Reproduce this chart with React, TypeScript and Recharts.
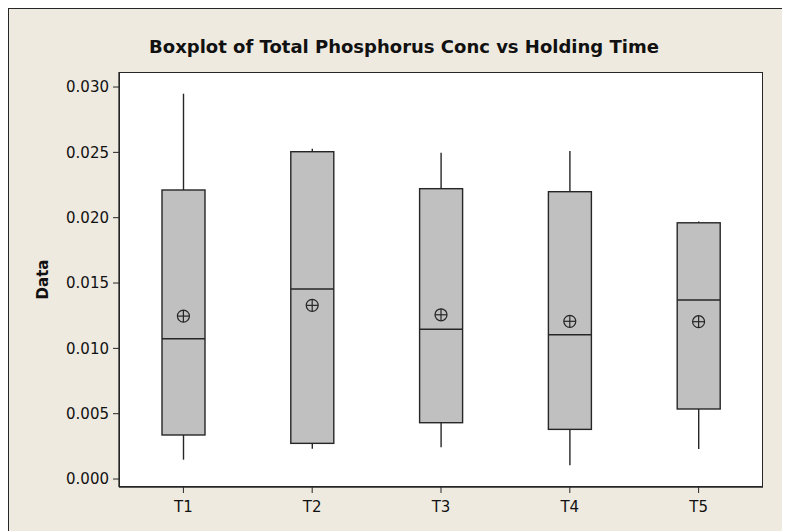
import { Bar, ComposedChart, Scatter, XAxis, YAxis, CartesianGrid } from "recharts";

const groups = ["T1", "T2", "T3", "T4", "T5"];
const whiskerLow = [0.00148, 0.00232, 0.00243, 0.00105, 0.0023];
const q1 = [0.00337, 0.00273, 0.00431, 0.0038, 0.00536];
const median = [0.01074, 0.01454, 0.01146, 0.01104, 0.0137];
const q3 = [0.02212, 0.02505, 0.02222, 0.02199, 0.01961];
const whiskerHigh = [0.02949, 0.02528, 0.02497, 0.0251, 0.0197];
const means = [0.01247, 0.01329, 0.01257, 0.01207, 0.01204];
const yTicks = [0, 0.005, 0.01, 0.015, 0.02, 0.025, 0.03];

const rows = groups.map((g, i) => ({
  name: g,
  range: [whiskerLow[i], whiskerHigh[i]],
  lo: whiskerLow[i],
  q1: q1[i],
  med: median[i],
  q3: q3[i],
  hi: whiskerHigh[i],
  mean: means[i],
}));

const INK = "#262626";
const BG = "#EEEAE0";
const FONT = "'DejaVu Sans', sans-serif";

function BoxShape(props: any) {
  const { x, y, width, height, payload } = props;
  const { lo, hi } = payload;
  // map a value into the pixel span the range bar already got from the y scale
  const py = (v: number) => y + (height * (hi - v)) / (hi - lo);
  const cx = x + width / 2;
  const top = py(payload.q3);
  const bottom = py(payload.q1);
  return (
    <g>
      <line x1={cx} x2={cx} y1={py(hi)} y2={top} stroke={INK} strokeWidth={1.4} />
      <line x1={cx} x2={cx} y1={bottom} y2={py(lo)} stroke={INK} strokeWidth={1.4} />
      <rect x={x} y={top} width={width} height={bottom - top} fill="#C0C0C0" stroke={INK} strokeWidth={1.4} />
      <line x1={x} x2={x + width} y1={py(payload.med)} y2={py(payload.med)} stroke={INK} strokeWidth={1.4} />
    </g>
  );
}

function MeanMark(props: any) {
  const { cx, cy } = props;
  const r = 6;
  return (
    <g>
      <circle cx={cx} cy={cy} r={r} fill="none" stroke={INK} strokeWidth={1.2} />
      <line x1={cx - r} x2={cx + r} y1={cy} y2={cy} stroke={INK} strokeWidth={1.2} />
      <line x1={cx} x2={cx} y1={cy - r} y2={cy + r} stroke={INK} strokeWidth={1.2} />
    </g>
  );
}

function YLabel(props: any) {
  const { viewBox } = props;
  const x = viewBox.x + 35;
  const y = viewBox.y + viewBox.height / 2;
  return (
    <text
      x={x}
      y={y}
      transform={`rotate(-90 ${x} ${y})`}
      textAnchor="middle"
      dominantBaseline="central"
      fontFamily={FONT}
      fontWeight="bold"
      fontSize={15}
      fill="#111"
    >
      Data
    </text>
  );
}

export default function App() {
  return (
    <div
      style={{
        position: "relative",
        width: 782,
        height: 523,
        background: BG,
        boxShadow: `inset 1px 1px 0 ${INK}`,
        fontFamily: FONT,
      }}
    >
      <div
        style={{
          position: "absolute",
          left: 0,
          top: 28,
          width: 792,
          textAlign: "center",
          fontWeight: "bold",
          fontSize: 18,
          lineHeight: "22px",
          color: "#111",
        }}
      >
        Boxplot of Total Phosphorus Conc vs Holding Time
      </div>
      <ComposedChart
        width={782}
        height={523}
        data={rows}
        margin={{ top: 64, right: 27, left: 0, bottom: 0 }}
        barCategoryGap={0}
      >
        <CartesianGrid horizontal={false} vertical={false} fill="#fff" />
        <XAxis
          dataKey="name"
          height={44}
          tickSize={6}
          tickMargin={8}
          stroke={INK}
          tick={{ fill: "#111", fontSize: 15, fontFamily: FONT }}
          axisLine={{ stroke: INK, strokeWidth: 1.3 }}
        />
        <YAxis
          width={111}
          domain={[-0.00061, 0.03115]}
          allowDataOverflow
          ticks={yTicks}
          tickFormatter={(v: number) => v.toFixed(3)}
          tickSize={6}
          tickMargin={4}
          stroke={INK}
          tick={{ fill: "#111", fontSize: 15, fontFamily: FONT }}
          axisLine={{ stroke: INK, strokeWidth: 1.3 }}
          label={<YLabel />}
        />
        <Bar dataKey="range" barSize={43} shape={<BoxShape />} isAnimationActive={false} />
        <Scatter dataKey="mean" shape={<MeanMark />} isAnimationActive={false} />
      </ComposedChart>
      <div
        style={{
          position: "absolute",
          left: 111,
          top: 64,
          width: 644,
          height: 415,
          border: `1.3px solid ${INK}`,
          boxSizing: "border-box",
          pointerEvents: "none",
          marginLeft: -0.5,
          marginTop: -0.5,
        }}
      />
    </div>
  );
}
